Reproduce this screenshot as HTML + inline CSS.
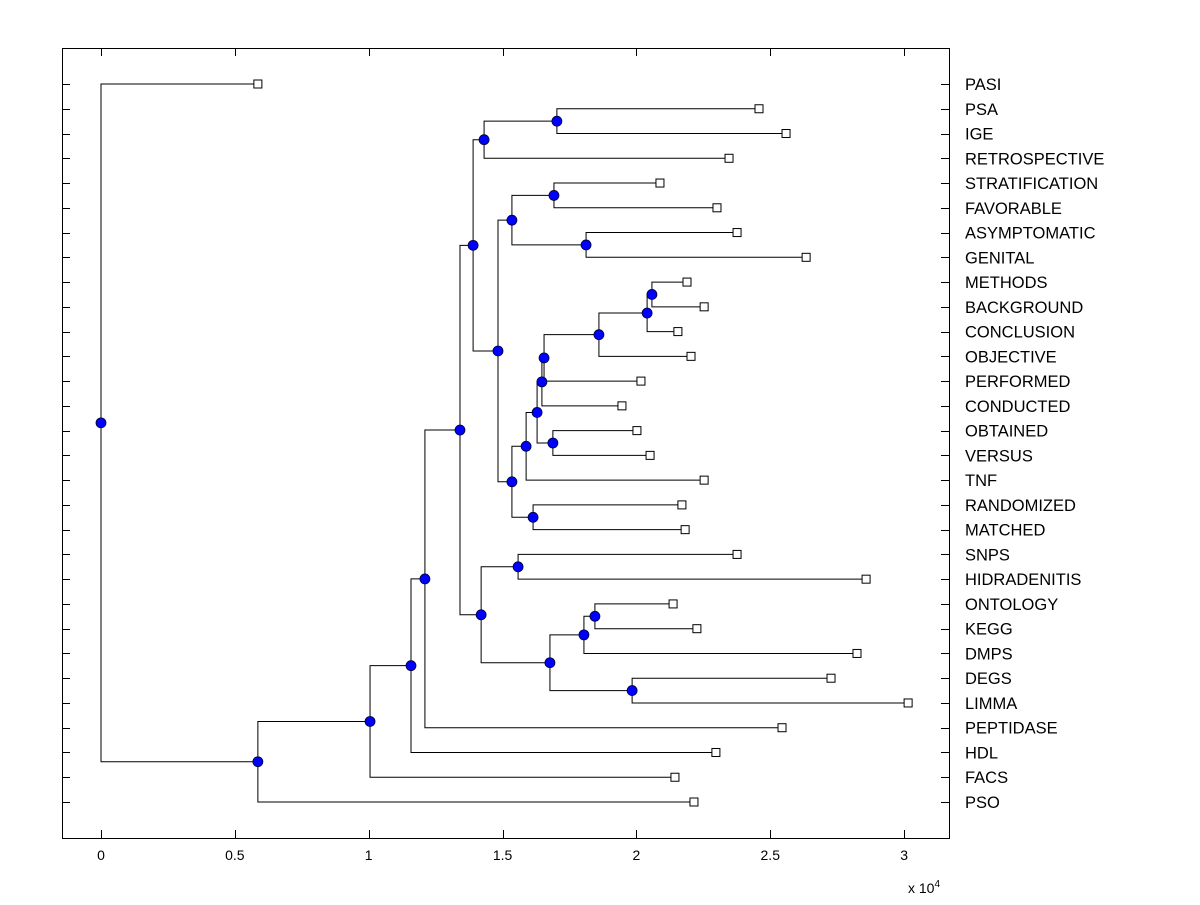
<!DOCTYPE html>
<html><head><meta charset="utf-8"><style>
html,body{margin:0;padding:0;background:#fff;}
svg text{font-family:"Liberation Sans",Arial,sans-serif;}
</style></head><body>
<svg id="chart" width="1200" height="900" xmlns="http://www.w3.org/2000/svg">
<rect width="1200" height="900" fill="#fff"/>
<rect x="62.5" y="48.5" width="887" height="790" fill="#fff" stroke="#000" stroke-width="1"/>
<g id="ticks"></g>
<g id="links"></g>
<g id="marks"></g>
<g id="labels"></g>
<text x="908" y="893" font-size="14">x 10<tspan dy="-6" font-size="10">4</tspan></text>
</svg>
<script>
const leafNames = ["PASI","PSA","IGE","RETROSPECTIVE","STRATIFICATION","FAVORABLE","ASYMPTOMATIC","GENITAL","METHODS","BACKGROUND","CONCLUSION","OBJECTIVE","PERFORMED","CONDUCTED","OBTAINED","VERSUS","TNF","RANDOMIZED","MATCHED","SNPS","HIDRADENITIS","ONTOLOGY","KEGG","DMPS","DEGS","LIMMA","PEPTIDASE","HDL","FACS","PSO"];
const leafHeights = [0.586,2.458,2.559,2.346,2.088,2.301,2.376,2.634,2.189,2.253,2.155,2.204,2.017,1.946,2.002,2.051,2.253,2.170,2.182,2.376,2.858,2.137,2.226,2.824,2.727,3.015,2.544,2.297,2.144,2.215];
const mergeLeft  = [1,30,4,6,32,8,35,36,37,38,14,39,41,17,42,34,31,19,21,48,24,49,47,46,53,54,55,56,0];
const mergeRight = [2,3,5,7,33,9,10,11,12,13,15,40,16,18,43,44,45,20,22,23,25,50,51,52,26,27,28,29,57];
const mergeHeight= [1.703,1.431,1.692,1.812,1.535,2.058,2.040,1.860,1.655,1.647,1.688,1.629,1.588,1.614,1.535,1.483,1.390,1.558,1.845,1.804,1.984,1.677,1.420,1.341,1.210,1.158,1.005,0.586,0];
const xTicks = [0,0.5,1,1.5,2,2.5,3];
const xTickLabels = ["0","0.5","1","1.5","2","2.5","3"];

const NS="http://www.w3.org/2000/svg";
const xS = v => 101 + v*267.7;
const yS = i => 84 + i*(802-84)/(leafNames.length-1);
function mk(tag, attrs, parent){const e=document.createElementNS(NS,tag);for(const k in attrs)e.setAttribute(k,attrs[k]);parent.appendChild(e);return e;}
const gT=document.getElementById('ticks'),gL=document.getElementById('links'),gM=document.getElementById('marks'),gLab=document.getElementById('labels');

xTicks.forEach((t,i)=>{
  const x=Math.round(xS(t))+0.5;
  let l=mk('line',{x1:x,x2:x,y1:838,y2:830,stroke:'#000'},gT);
  
  
  l=mk('line',{x1:x,x2:x,y1:48,y2:56,stroke:'#000'},gT);
  
  
  const tx=mk('text',{x:xS(t),y:860,'font-size':14,'text-anchor':'middle'},gT);
  tx.textContent=xTickLabels[i];
  
  
});
leafNames.forEach((n,i)=>{
  const y=Math.round(yS(i))+0.5;
  let l=mk('line',{x1:62,x2:70,y1:y,y2:y,stroke:'#000'},gT);
  
  
  l=mk('line',{x1:941,x2:949,y1:y,y2:y,stroke:'#000'},gT);
  
  
  const tx=mk('text',{x:965,y:yS(i)+6,'font-size':16.5},gLab);
  tx.textContent=n;
  
  
});
const nodeX=[],nodeY=[];
leafNames.forEach((n,i)=>{nodeX[i]=leafHeights[i];nodeY[i]=yS(i);});
mergeHeight.forEach((h,k)=>{
  const id=leafNames.length+k,a=mergeLeft[k],b=mergeRight[k];
  nodeX[id]=h;nodeY[id]=(nodeY[a]+nodeY[b])/2;
  const x=xS(h);
  let p=mk('path',{d:`M${xS(nodeX[a])},${nodeY[a]}H${x}V${nodeY[b]}H${xS(nodeX[b])}`,fill:'none',stroke:'#000','stroke-width':1},gL);
  
  
});
leafNames.forEach((n,i)=>{
  const r=mk('rect',{x:xS(leafHeights[i])-4,y:yS(i)-4,width:8,height:8,fill:'#fff',stroke:'#000'},gM);
  
  
});
mergeHeight.forEach((h,k)=>{
  const id=leafNames.length+k;
  const c=mk('circle',{cx:xS(h),cy:nodeY[id],r:5,fill:'#0000ff',stroke:'#000033','stroke-width':0.8},gM);
  
  
});
</script>
</body></html>
